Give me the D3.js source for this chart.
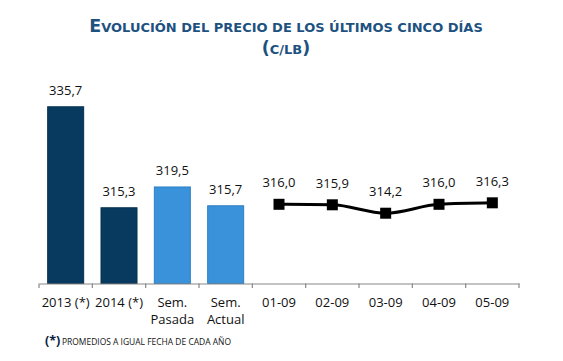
<!DOCTYPE html>
<html><head><meta charset="utf-8">
<script src="https://cdn.jsdelivr.net/npm/d3@7"></script>
<style>html,body{margin:0;padding:0;background:#fff;}svg{display:block;}</style>
</head><body>
<svg id="c" width="563" height="361"></svg>
<script>
const categories = ["2013 (*)", "2014 (*)", "Sem.|Pasada", "Sem.|Actual", "01-09", "02-09", "03-09", "04-09", "05-09"];
const barCategories = ["2013 (*)", "2014 (*)", "Sem.|Pasada", "Sem.|Actual"];
const barValues = [335.7, 315.3, 319.5, 315.7];
const barKinds = ["annual", "annual", "weekly", "weekly"];
const lineCategories = ["01-09", "02-09", "03-09", "04-09", "05-09"];
const lineValues = [316.0, 315.9, 314.2, 316.0, 316.3];
const yDomain = [300, 340];

const colors = {annual: "#083a5f", weekly: "#3a92da"};
const strokes = {annual: "#06304f", weekly: "#2d7fc4"};
const fmt = v => d3.format(".1f")(v).replace(".", ",");

const svg = d3.select("#c");
const axisY = 283.5;

const x = d3.scaleBand().domain(categories).range([39, 519]);
const y = d3.scaleLinear().domain(yDomain).range([axisY, 85.5]);
const cx = c => x(c) + x.bandwidth() / 2;

// Title
const tc = 286;
const title = svg.append("text").attr("x", tc).attr("y", 32).attr("text-anchor", "middle")
  .attr("font-family", "DejaVu Sans, Verdana, sans-serif").attr("font-weight", "bold").attr("fill", "#1d5280");
title.append("tspan").attr("font-size", 17.5).text("E");
title.append("tspan").attr("font-size", 13).text("VOLUCIÓN DEL PRECIO DE LOS ÚLTIMOS CINCO DÍAS");
const title2 = svg.append("text").attr("x", tc).attr("y", 54).attr("text-anchor", "middle")
  .attr("font-family", "DejaVu Sans, Verdana, sans-serif").attr("font-weight", "bold").attr("fill", "#1d5280");
title2.append("tspan").attr("font-size", 17.5).text("(");
title2.append("tspan").attr("font-size", 13).text("C/LB");
title2.append("tspan").attr("font-size", 17.5).text(")");

// Bars
const bw = 36;
svg.append("g").selectAll("rect").data(barValues).join("rect")
  .attr("x", (d, i) => cx(barCategories[i]) - bw / 2)
  .attr("y", d => y(d))
  .attr("width", bw)
  .attr("height", d => axisY - y(d))
  .attr("fill", (d, i) => colors[barKinds[i]])
  .attr("stroke", (d, i) => strokes[barKinds[i]])
  .attr("stroke-width", 1);

svg.append("g").selectAll("text").data(barValues).join("text")
  .attr("x", (d, i) => cx(barCategories[i]))
  .attr("y", d => y(d) - 12)
  .attr("text-anchor", "middle")
  .attr("font-family", "Open Sans, sans-serif").attr("font-size", 13).attr("fill", "#111")
  .text(d => fmt(d));

// Line
const lx = (d, i) => cx(lineCategories[i]);
svg.append("path").datum(lineValues)
  .attr("d", d3.line().x(lx).y(d => y(d)).curve(d3.curveMonotoneX))
  .attr("fill", "none").attr("stroke", "#000").attr("stroke-width", 3);
const ms = 11;
svg.append("g").selectAll("rect").data(lineValues).join("rect")
  .attr("x", (d, i) => lx(d, i) - ms / 2).attr("y", d => y(d) - ms / 2)
  .attr("width", ms).attr("height", ms).attr("fill", "#000");
svg.append("g").selectAll("text").data(lineValues).join("text")
  .attr("x", lx).attr("y", d => y(d) - 17)
  .attr("text-anchor", "middle")
  .attr("font-family", "Open Sans, sans-serif").attr("font-size", 13).attr("fill", "#111")
  .text(d => fmt(d));

// Axis
const ax = svg.append("g").attr("transform", `translate(0,${axisY})`)
  .call(d3.axisBottom(x).tickSize(0).tickFormat(""));
ax.select(".domain").attr("stroke", "#888").attr("stroke-width", 1.2);
ax.selectAll(".tick").remove();
const bounds = categories.map(c => x(c)).concat([x.range()[1]]);
ax.selectAll("line.t").data(bounds).join("line").attr("class", "t")
  .attr("x1", d => d).attr("x2", d => d).attr("y1", 0).attr("y2", 4.5)
  .attr("stroke", "#888").attr("stroke-width", 1.2);
const lbl = svg.append("g").selectAll("text").data(categories).join("text")
  .attr("x", d => cx(d))
  .attr("y", 307)
  .attr("text-anchor", "middle")
  .attr("font-family", "Open Sans, sans-serif").attr("font-size", 13).attr("fill", "#111");
lbl.each(function(d) {
  const parts = d.split("|");
  const t = d3.select(this);
  parts.forEach((p, i) => t.append("tspan").attr("x", cx(d)).attr("dy", i ? 16.5 : 0).text(p));
});

// Footnote
svg.append("text").attr("x", 45).attr("y", 345)
  .attr("font-family", "Open Sans, sans-serif").attr("fill", "#0b2140")
  .attr("font-size", 12.5).attr("font-weight", "bold").text("(*)");
svg.append("text").attr("x", 62).attr("y", 344.5)
  .attr("font-family", "Open Sans, sans-serif").attr("fill", "#111")
  .attr("font-size", 8.6).attr("textLength", 169).attr("lengthAdjust", "spacingAndGlyphs")
  .text("PROMEDIOS A IGUAL FECHA DE CADA AÑO");
</script>
</body></html>
